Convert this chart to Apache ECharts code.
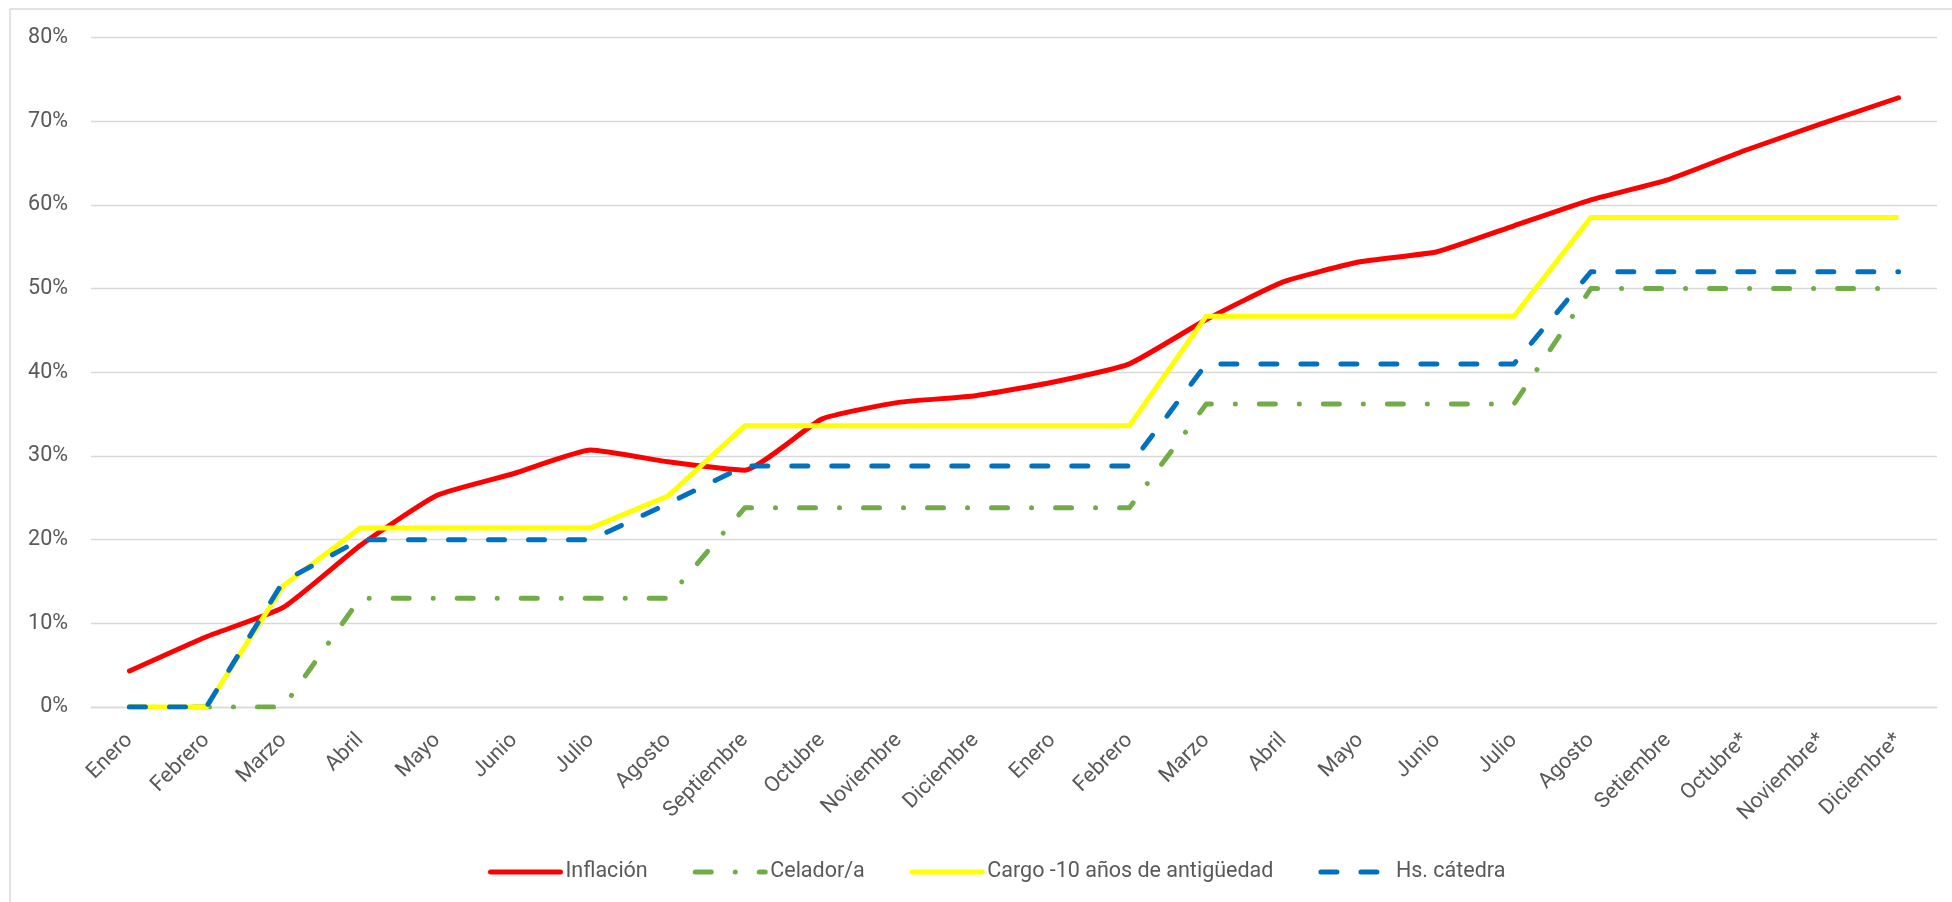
<!DOCTYPE html>
<html>
<head>
<meta charset="utf-8">
<script src="https://cdn.jsdelivr.net/npm/echarts@6/dist/echarts.min.js"></script>
<style>
html,body{margin:0;padding:0;background:#fff;}
#chart{width:1952px;height:902px;}
</style>
</head>
<body>
<div id="chart"></div>
<script>
const categories = ["Enero","Febrero","Marzo","Abril","Mayo","Junio","Julio","Agosto","Septiembre","Octubre","Noviembre","Diciembre","Enero","Febrero","Marzo","Abril","Mayo","Junio","Julio","Agosto","Setiembre","Octubre*","Noviembre*","Diciembre*"];
const inflacion = [4.3, 8.4, 11.9, 19.3, 25.3, 27.9, 30.7, 29.3, 28.3, 34.4, 36.4, 37.2, 38.8, 41.0, 46.3, 50.8, 53.2, 54.4, 57.5, 60.6, 63.0, 66.5, 69.7, 72.8];
const celador = [0, 0, 0, 13.0, 13.0, 13.0, 13.0, 13.0, 23.8, 23.8, 23.8, 23.8, 23.8, 23.8, 36.2, 36.2, 36.2, 36.2, 36.2, 50.0, 50.0, 50.0, 50.0, 50.0];
const cargo = [0, 0, 14.5, 21.4, 21.4, 21.4, 21.4, 25.2, 33.6, 33.6, 33.6, 33.6, 33.6, 33.6, 46.7, 46.7, 46.7, 46.7, 46.7, 58.5, 58.5, 58.5, 58.5, 58.5];
const hsCatedra = [0, 0, 15.0, 20.0, 20.0, 20.0, 20.0, 24.3, 28.8, 28.8, 28.8, 28.8, 28.8, 28.8, 41.0, 41.0, 41.0, 41.0, 41.0, 52.0, 52.0, 52.0, 52.0, 52.0];
const seriesNames = ["Inflación", "Celador/a", "Cargo -10 años de antigüedad", "Hs. cátedra"];
const yTicks = {min: 0, max: 80, interval: 10};

const FONT = 'Roboto, "Liberation Sans", sans-serif';
const TXT = '#595959';
const GRID = '#d9d9d9';

const chart = echarts.init(document.getElementById('chart'), null, {renderer: 'canvas'});
chart.setOption({
  backgroundColor: '#ffffff',
  animation: false,
  textStyle: {fontFamily: FONT},
  grid: {left: 91, right: 15, top: 37.5, bottom: 195, containLabel: false, outerBoundsMode: 'none'},
  legend: {
    left: 483, top: 856,
    itemWidth: 70, itemHeight: 14, itemGap: 45,
    itemStyle: {opacity: 0},
    lineStyle: {width: 5, cap: 'round'},
    textStyle: {fontFamily: FONT, fontSize: 21.5, color: TXT},
    data: seriesNames
  },
  xAxis: {
    type: 'category',
    data: categories,
    boundaryGap: true,
    axisLine: {show: true, lineStyle: {color: GRID, width: 1.3}},
    axisTick: {show: false},
    axisLabel: {interval: 0, rotate: 45, margin: 30, fontFamily: FONT, fontSize: 21.5, color: TXT}
  },
  yAxis: {
    type: 'value',
    min: yTicks.min, max: yTicks.max, interval: yTicks.interval,
    axisLine: {show: false},
    axisTick: {show: false},
    splitLine: {lineStyle: {color: GRID, width: 1.3}},
    axisLabel: {formatter: '{value}%', margin: 23, fontFamily: FONT, fontSize: 21.5, color: TXT}
  },
  graphic: [
    {type: 'line', shape: {x1: 10, y1: 9, x2: 10, y2: 902}, style: {stroke: GRID, lineWidth: 1.5}, silent: true},
    {type: 'line', shape: {x1: 10, y1: 9, x2: 1952, y2: 9}, style: {stroke: GRID, lineWidth: 1.5}, silent: true}
  ],
  series: [
    {name: seriesNames[0], type: 'line', data: inflacion, symbol: 'none', smooth: 0.15,
     lineStyle: {color: '#ff0000', width: 5, cap: 'round', join: 'round'}, itemStyle: {color: '#ff0000'}},
    {name: seriesNames[1], type: 'line', data: celador, symbol: 'none',
     lineStyle: {color: '#70ad47', width: 5, type: [16, 24, 0.01, 24], cap: 'round', join: 'round'}, itemStyle: {color: '#70ad47'}},
    {name: seriesNames[2], type: 'line', data: cargo, symbol: 'none',
     lineStyle: {color: '#ffff00', width: 5, join: 'miter'}, itemStyle: {color: '#ffff00'}},
    {name: seriesNames[3], type: 'line', data: hsCatedra, symbol: 'none',
     lineStyle: {color: '#0070c0', width: 5, type: [16, 24], cap: 'round', join: 'round'}, itemStyle: {color: '#0070c0'}}
  ]
});
</script>
</body>
</html>
